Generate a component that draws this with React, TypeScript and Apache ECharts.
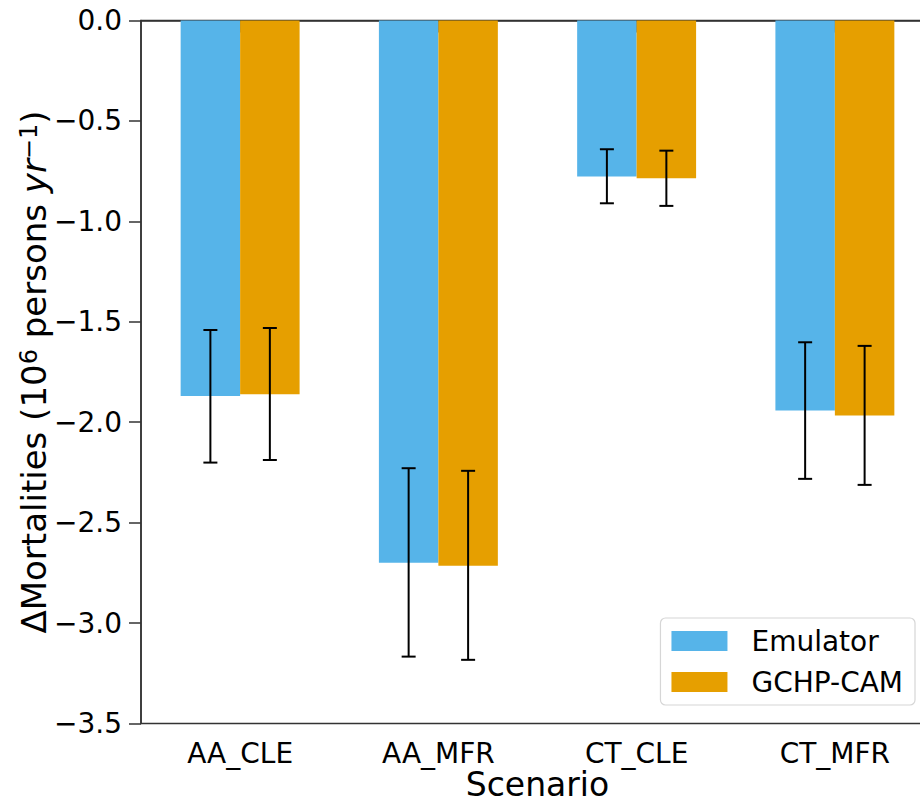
import React, { useEffect, useRef } from "react";
import * as echarts from "echarts";

const categories = ["AA_CLE", "AA_MFR", "CT_CLE", "CT_MFR"];
const seriesNames = ["Emulator", "GCHP-CAM"];
const emulator = [-1.87, -2.70, -0.777, -1.942];
const gchp = [-1.861, -2.715, -0.786, -1.967];
const emulatorLow = [-2.201, -3.167, -0.91, -2.282];
const emulatorHigh = [-1.541, -2.229, -0.641, -1.602];
const gchpLow = [-2.188, -3.183, -0.923, -2.312];
const gchpHigh = [-1.531, -2.242, -0.648, -1.62];

const FONT = "DejaVu Sans";
const BLUE = "#56B4E9";
const ORANGE = "#E69F00";

function errorSeries(low: number[], high: number[], offset: number) {
  return {
    type: "custom",
    silent: true,
    z: 10,
    data: low.map((l, i) => [i, l, high[i]]),
    encode: { x: 0, y: [1, 2] },
    renderItem: (params: any, api: any) => {
      const idx = api.value(0);
      const lo = api.value(1);
      const hi = api.value(2);
      const band = api.size([1, 0])[0];
      const pHi = api.coord([idx, hi]);
      const pLo = api.coord([idx, lo]);
      const x = pHi[0] + offset * band;
      const cap = 7;
      const st = { stroke: "#000", lineWidth: 2 };
      return {
        type: "group",
        children: [
          { type: "line", shape: { x1: x, y1: pHi[1], x2: x, y2: pLo[1] }, style: st },
          { type: "line", shape: { x1: x - cap, y1: pHi[1], x2: x + cap, y2: pHi[1] }, style: st },
          { type: "line", shape: { x1: x - cap, y1: pLo[1], x2: x + cap, y2: pLo[1] }, style: st },
        ],
      };
    },
  };
}

export default function App() {
  const ref = useRef<HTMLDivElement>(null);
  useEffect(() => {
    document.body.style.margin = "0";
    const chart = echarts.init(ref.current!, null, { renderer: "svg" });
    const axisColor = "#333";
    chart.setOption({
      animation: false,
      backgroundColor: "#fff",
      grid: {
        left: 141,
        top: 20.5,
        width: 793,
        height: 703,
        outerBoundsMode: "none",
        containLabel: false,
        show: true,
        borderColor: axisColor,
        borderWidth: 1.5,
        backgroundColor: "transparent",
      },
      legend: {
        data: seriesNames,
        orient: "vertical",
        right: 5,
        top: 618,
        itemWidth: 56,
        itemHeight: 20,
        itemGap: 13,
        padding: [9, 12, 9, 11],
        backgroundColor: "#fff",
        borderColor: "#d6d6d6",
        borderWidth: 1.2,
        borderRadius: 5,
        icon: "rect",
        textStyle: { fontFamily: FONT, fontSize: 28, color: "#000", padding: [0, 0, 0, 19] },
      },
      xAxis: {
        type: "category",
        data: categories,
        name: "Scenario",
        nameLocation: "middle",
        nameGap: 45,
        nameMoveOverlap: false,
        nameTextStyle: { fontFamily: FONT, fontSize: 33, lineHeight: 32, color: "#000" },
        axisLine: { lineStyle: { color: axisColor, width: 1.5 } },
        axisTick: { show: true, alignWithLabel: true, length: 12, lineStyle: { color: axisColor, width: 1.5 } },
        axisLabel: { fontFamily: FONT, fontSize: 28, color: "#000", margin: 16 },
        splitLine: { show: false },
      },
      yAxis: {
        type: "value",
        min: -3.5,
        max: 0,
        interval: 0.5,
        name: "{n|ΔMortalities (10}{sup|6}{n| persons }{it|yr}{sup|−1}{n|)}",
        nameLocation: "middle",
        nameGap: 90,
        nameMoveOverlap: false,
        nameTextStyle: {
          fontFamily: FONT,
          fontSize: 34,
          color: "#000",
          rich: {
            n: { fontFamily: FONT, fontSize: 34, color: "#000" },
            it: { fontFamily: FONT, fontSize: 34, color: "#000", fontStyle: "italic" },
            sup: { fontFamily: FONT, fontSize: 24, color: "#000", verticalAlign: "top" },
          },
        },
        axisLine: { show: true, lineStyle: { color: axisColor, width: 1.5 } },
        axisTick: { show: true, length: 12, lineStyle: { color: axisColor, width: 1.5 } },
        axisLabel: {
          fontFamily: FONT,
          fontSize: 28,
          color: "#000",
          margin: 19,
          formatter: (v: number) => v.toFixed(1).replace("-", "−"),
        },
        splitLine: { show: false },
      },
      series: [
        {
          name: seriesNames[0],
          type: "bar",
          data: emulator,
          barWidth: "30%",
          barGap: "0%",
          itemStyle: { color: BLUE },
        },
        {
          name: seriesNames[1],
          type: "bar",
          data: gchp,
          barWidth: "30%",
          barGap: "0%",
          itemStyle: { color: ORANGE },
        },
        errorSeries(emulatorLow, emulatorHigh, -0.15),
        errorSeries(gchpLow, gchpHigh, 0.15),
      ],
    });
    return () => chart.dispose();
  }, []);
  return <div ref={ref} style={{ width: 920, height: 805 }} />;
}
